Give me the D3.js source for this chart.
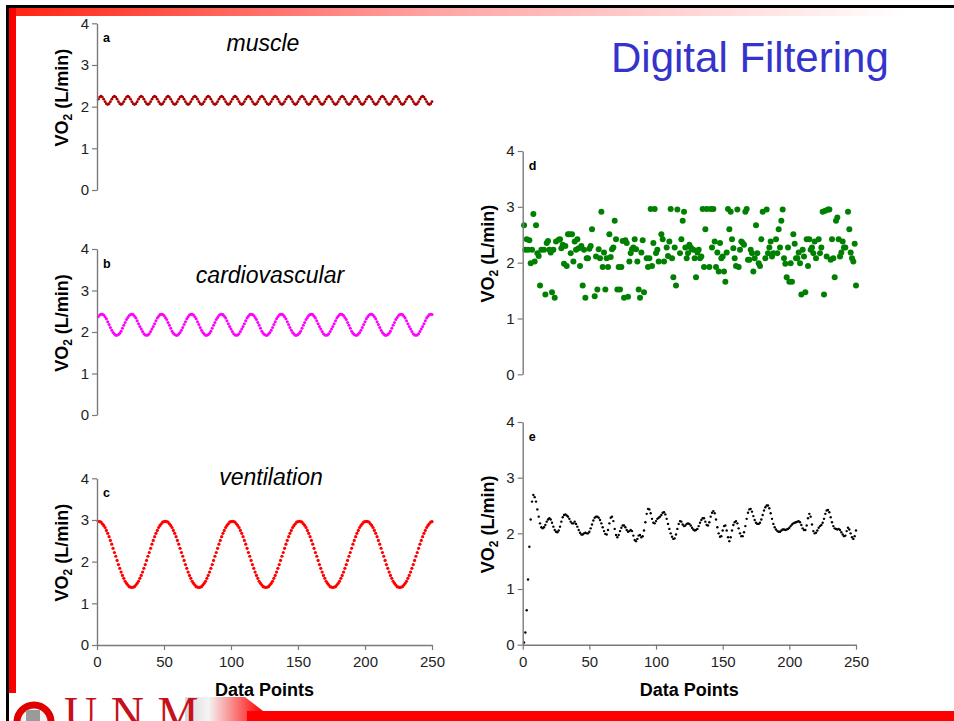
<!DOCTYPE html>
<html lang="en">
<head>
  <meta charset="UTF-8">
  <title>Digital Filtering</title>
  <script src="https://d3js.org/d3.v7.min.js"></script>
  <style>
    html, body { margin: 0; padding: 0; background: #fff; }
    svg { display: block; font-family: "Liberation Sans", Arial, sans-serif; }
  </style>
</head>
<body>
  <script>
    // ---- data ----
    const xTicks = [0, 50, 100, 150, 200, 250];
    const yTicks = [0, 1, 2, 3, 4];

    // panel a: muscle, x = 1..250
    const muscle = [
      2.18,2.23,2.25,2.23,2.18,2.12,2.07,2.05,2.07,2.12, 2.18,2.23,2.25,2.23,2.18,2.12,2.07,2.05,2.07,2.12,
      2.18,2.23,2.25,2.23,2.18,2.12,2.07,2.05,2.07,2.12, 2.18,2.23,2.25,2.23,2.18,2.12,2.07,2.05,2.07,2.12,
      2.18,2.23,2.25,2.23,2.18,2.12,2.07,2.05,2.07,2.12, 2.18,2.23,2.25,2.23,2.18,2.12,2.07,2.05,2.07,2.12,
      2.18,2.23,2.25,2.23,2.18,2.12,2.07,2.05,2.07,2.12, 2.18,2.23,2.25,2.23,2.18,2.12,2.07,2.05,2.07,2.12,
      2.18,2.23,2.25,2.23,2.18,2.12,2.07,2.05,2.07,2.12, 2.18,2.23,2.25,2.23,2.18,2.12,2.07,2.05,2.07,2.12,
      2.18,2.23,2.25,2.23,2.18,2.12,2.07,2.05,2.07,2.12, 2.18,2.23,2.25,2.23,2.18,2.12,2.07,2.05,2.07,2.12,
      2.18,2.23,2.25,2.23,2.18,2.12,2.07,2.05,2.07,2.12, 2.18,2.23,2.25,2.23,2.18,2.12,2.07,2.05,2.07,2.12,
      2.18,2.23,2.25,2.23,2.18,2.12,2.07,2.05,2.07,2.12, 2.18,2.23,2.25,2.23,2.18,2.12,2.07,2.05,2.07,2.12,
      2.18,2.23,2.25,2.23,2.18,2.12,2.07,2.05,2.07,2.12, 2.18,2.23,2.25,2.23,2.18,2.12,2.07,2.05,2.07,2.12,
      2.18,2.23,2.25,2.23,2.18,2.12,2.07,2.05,2.07,2.12, 2.18,2.23,2.25,2.23,2.18,2.12,2.07,2.05,2.07,2.12,
      2.18,2.23,2.25,2.23,2.18,2.12,2.07,2.05,2.07,2.12, 2.18,2.23,2.25,2.23,2.18,2.12,2.07,2.05,2.07,2.12,
      2.18,2.23,2.25,2.23,2.18,2.12,2.07,2.05,2.07,2.12, 2.18,2.23,2.25,2.23,2.18,2.12,2.07,2.05,2.07,2.12,
      2.18,2.23,2.25,2.23,2.18,2.12,2.07,2.05,2.07,2.12
    ];

    // panel b: cardiovascular, x = 1..250
    const cardio = [
      2.37,2.41,2.43,2.43,2.41,2.37,2.32,2.25,2.18,2.11,2.04,1.99,1.95,1.92,1.92,1.94,1.97,2.02,2.09,2.16,2.23,2.30,
      2.35,2.40,2.42,2.43,2.42,2.38,2.34,2.27,2.20,2.13,2.07,2.01,1.96,1.93,1.92,1.93,1.96,2.01,2.07,2.13,2.20,2.27,
      2.34,2.38,2.42,2.43,2.42,2.40,2.35,2.30,2.23,2.16,2.09,2.02,1.97,1.94,1.92,1.92,1.95,1.99,2.04,2.11,2.18,2.25,
      2.32,2.37,2.41,2.43,2.43,2.41,2.37,2.32,2.25,2.18,2.11,2.04,1.99,1.95,1.92,1.92,1.94,1.97,2.02,2.09,2.16,2.23,
      2.30,2.35,2.40,2.42,2.43,2.42,2.38,2.34,2.27,2.20,2.13,2.07,2.01,1.96,1.93,1.92,1.93,1.96,2.01,2.07,2.13,2.20,
      2.27,2.34,2.38,2.42,2.43,2.42,2.40,2.35,2.30,2.23,2.16,2.09,2.02,1.97,1.94,1.92,1.92,1.95,1.99,2.04,2.11,2.18,2.25,
      2.32,2.37,2.41,2.43,2.43,2.41,2.37,2.32,2.25,2.18,2.11,2.04,1.99,1.95,1.92,1.92,1.94,1.97,2.02,2.09,2.16,2.23,
      2.30,2.35,2.40,2.42,2.43,2.42,2.38,2.34,2.27,2.20,2.13,2.07,2.01,1.96,1.93,1.92,1.93,1.96,2.01,2.07,2.13,2.20,
      2.27,2.34,2.38,2.42,2.43,2.42,2.40,2.35,2.30,2.23,2.16,2.09,2.02,1.97,1.94,1.92,1.92,1.95,1.99,2.04,2.11,2.18,2.25,
      2.32,2.37,2.41,2.43,2.43,2.41,2.37,2.32,2.25,2.18,2.11,2.04,1.99,1.95,1.92,1.92,1.94,1.97,2.02,2.09,2.16,2.23,
      2.30,2.35,2.40,2.42,2.43,2.42,2.38,2.34,2.27,2.20,2.13,2.07,2.01,1.96,1.93,1.92,1.93,1.96,2.01,2.07,2.13,2.20,
      2.27,2.34,2.38,2.42,2.43,2.42
    ];

    // panel c: ventilation, x = 1..250
    const ventilation = [
      2.97,2.96,2.95,2.91,2.87,2.82,2.75,2.68,2.60,2.51,2.42,2.32,2.22,2.13,2.03,1.93,1.84,1.75,1.67,1.60,
      1.53,1.48,1.44,1.40,1.39,1.38,1.39,1.40,1.44,1.48,1.53,1.60,1.67,1.75,1.84,1.93,2.03,2.13,2.22,2.32,
      2.42,2.51,2.60,2.68,2.75,2.82,2.87,2.91,2.95,2.96,
      2.97,2.96,2.95,2.91,2.87,2.82,2.75,2.68,2.60,2.51,2.42,2.32,2.22,2.13,2.03,1.93,1.84,1.75,1.67,1.60,
      1.53,1.48,1.44,1.40,1.39,1.38,1.39,1.40,1.44,1.48,1.53,1.60,1.67,1.75,1.84,1.93,2.03,2.13,2.22,2.32,
      2.42,2.51,2.60,2.68,2.75,2.82,2.87,2.91,2.95,2.96,
      2.97,2.96,2.95,2.91,2.87,2.82,2.75,2.68,2.60,2.51,2.42,2.32,2.22,2.13,2.03,1.93,1.84,1.75,1.67,1.60,
      1.53,1.48,1.44,1.40,1.39,1.38,1.39,1.40,1.44,1.48,1.53,1.60,1.67,1.75,1.84,1.93,2.03,2.13,2.22,2.32,
      2.42,2.51,2.60,2.68,2.75,2.82,2.87,2.91,2.95,2.96,
      2.97,2.96,2.95,2.91,2.87,2.82,2.75,2.68,2.60,2.51,2.42,2.32,2.22,2.13,2.03,1.93,1.84,1.75,1.67,1.60,
      1.53,1.48,1.44,1.40,1.39,1.38,1.39,1.40,1.44,1.48,1.53,1.60,1.67,1.75,1.84,1.93,2.03,2.13,2.22,2.32,
      2.42,2.51,2.60,2.68,2.75,2.82,2.87,2.91,2.95,2.96,
      2.97,2.96,2.95,2.91,2.87,2.82,2.75,2.68,2.60,2.51,2.42,2.32,2.22,2.13,2.03,1.93,1.84,1.75,1.67,1.60,
      1.53,1.48,1.44,1.40,1.39,1.38,1.39,1.40,1.44,1.48,1.53,1.60,1.67,1.75,1.84,1.93,2.03,2.13,2.22,2.32,
      2.42,2.51,2.60,2.68,2.75,2.82,2.87,2.91,2.95,2.96
    ];

    // panel d: raw signal (x positions and values)
    const rawX = [
      1,2,3,4,5,6,7,8,9,10,  11,12,13,14,16,17,18,19,20,  21,22,23,24,25,27,28,29,30,
      31,32,33,34,35,36,37,38,39,40,  41,42,43,44,45,46,47,48,49,50,  51,52,54,55,56,57,58,59,60,
      61,62,63,64,65,66,67,68,69,70,  71,72,73,74,75,76,77,78,79,80,  81,82,83,84,85,86,87,88,89,90,
      91,93,94,95,96,97,98,99,100,  101,102,104,105,106,108,109,110,  111,112,113,114,115,116,118,119,120,
      121,122,123,124,125,126,127,128,129,130,  131,132,133,134,135,136,137,138,140,
      141,142,143,144,145,146,147,148,149,150,  151,152,153,154,155,156,157,158,159,160,
      161,162,163,164,165,166,167,168,169,170,  171,172,173,174,175,176,177,178,179,180,
      182,183,184,185,186,187,188,190,  191,192,193,194,195,196,197,198,199,200,
      201,202,203,204,205,206,207,208,209,210,  211,212,213,214,215,216,217,218,219,220,
      222,223,224,225,226,227,228,229,230,  231,232,233,234,235,236,237,238,239,240,
      241,242,244,245,246,247,248,249,250
    ];
    const rawY = [
      2.67,2.23,2.42,2.23,2.40,1.99,2.23,2.87,2.02,2.67,  2.17,2.12,1.59,2.23,2.23,1.43,2.35,2.39,2.23,  2.18,1.47,2.23,1.37,2.38,2.41,2.42,2.26,2.32,
      1.98,2.30,1.94,2.51,2.51,2.17,2.51,2.02,2.38,2.23,  2.42,2.26,1.94,2.30,1.59,2.23,1.37,2.08,2.08,2.25,  2.30,2.60,1.40,2.11,1.52,2.24,2.08,2.91,1.92,
      2.18,1.52,2.08,1.92,2.51,2.10,2.24,2.27,2.75,2.42,  1.52,1.92,1.52,1.92,2.39,1.37,2.40,2.35,1.39,2.02,  2.17,2.24,2.27,2.42,2.24,2.02,1.52,1.37,2.18,2.40,
      1.47,2.08,1.92,2.08,2.96,1.94,2.35,2.96,2.17,  2.23,2.02,2.51,2.42,2.02,2.27,2.12,2.38,  2.96,2.08,1.74,2.27,1.59,2.95,2.17,2.42,2.75,
      2.91,2.27,2.08,2.17,2.32,2.27,2.24,2.23,2.08,1.74,  2.18,2.23,2.08,2.11,2.96,1.92,2.60,2.96,1.92,
      2.96,2.27,2.96,2.38,1.92,2.18,1.84,2.35,2.08,2.11,  1.84,1.66,2.18,2.96,2.60,2.91,2.42,2.26,2.08,1.94,
      2.95,1.92,2.23,2.38,2.35,2.32,2.91,2.96,2.05,2.05,  2.23,2.17,1.84,2.08,2.67,2.17,1.99,1.94,2.42,2.91,
      2.08,2.95,2.17,2.27,2.38,2.11,2.17,2.42,  2.17,2.60,2.27,2.75,2.95,2.08,1.98,1.74,2.27,1.66,
      1.99,1.66,2.51,2.34,2.08,2.08,2.18,1.99,1.43,2.23,  2.11,1.47,2.42,1.94,2.42,2.23,2.27,2.17,2.38,2.08,
      2.42,2.17,2.27,2.91,1.43,2.93,2.11,2.95,2.95,  2.05,2.42,2.08,1.74,2.75,2.81,2.42,2.11,2.18,2.38,
      2.27,2.27,2.91,2.60,2.18,2.08,2.02,2.34,1.59
    ];

    // panel e: filtered signal, x = 1..250
    const filtered = [
      0.04,0.22,0.62,1.17,1.76,2.25,2.57,2.69,2.65,2.57, 2.43,2.30,2.18,2.11,2.09,2.11,2.15,2.21,2.25,2.27,
      2.25,2.19,2.12,2.06,2.03,2.02,2.05,2.12,2.21,2.29, 2.33,2.34,2.32,2.30,2.26,2.21,2.18,2.18,2.21,2.17,
      2.12,2.06,2.01,1.98,1.98,2.00,2.01,2.00,2.00,2.03, 2.09,2.16,2.23,2.28,2.30,2.30,2.28,2.24,2.18,2.11,
      2.04,1.99,1.98,2.06,2.18,2.28,2.30,2.22,2.08,1.97, 1.93,1.97,2.04,2.10,2.14,2.14,2.11,2.06,2.03,2.04,
      2.06,2.04,1.96,1.88,1.86,1.90,1.96,1.97,1.93,1.95, 2.05,2.20,2.35,2.44,2.43,2.36,2.26,2.19,2.18,2.22,
      2.26,2.28,2.30,2.33,2.37,2.38,2.34,2.26,2.17,2.08, 2.00,1.94,1.90,1.91,1.98,2.08,2.17,2.22,2.21,2.16,
      2.13,2.14,2.17,2.18,2.17,2.14,2.10,2.07,2.05,2.06, 2.08,2.13,2.19,2.24,2.27,2.27,2.21,2.15,2.14,2.20,
      2.30,2.37,2.40,2.36,2.25,2.11,2.00,1.94,1.95,2.05, 2.13,2.14,2.05,1.93,1.86,1.93,2.05,2.15,2.20,2.22,
      2.18,2.09,2.00,1.95,1.95,2.02,2.13,2.26,2.37,2.43, 2.44,2.39,2.31,2.24,2.19,2.17,2.17,2.19,2.25,2.33,
      2.41,2.47,2.50,2.50,2.45,2.36,2.26,2.17,2.11,2.07, 2.04,2.03,2.03,2.05,2.07,2.07,2.06,2.07,2.08,2.10,
      2.13,2.16,2.18,2.19,2.20,2.21,2.22,2.20,2.15,2.09, 2.06,2.06,2.14,2.27,2.35,2.30,2.16,2.04,2.00,2.01,
      2.05,2.10,2.13,2.15,2.19,2.26,2.35,2.41,2.42,2.38, 2.29,2.20,2.13,2.09,2.08,2.07,2.08,2.06,2.02,1.98,
      1.95,1.96,2.04,2.10,2.07,2.00,1.93,1.90,1.95,2.05
    ];

    const W = 954, H = 721;
    const svg = d3.select("body").append("svg")
        .attr("width", W)
        .attr("height", H);

    // ---- slide frame ----
    const defs = svg.append("defs");
    const topGrad = defs.append("linearGradient").attr("id", "topGrad")
        .attr("x1", "0%").attr("x2", "100%");
    topGrad.append("stop").attr("offset", "0%").attr("stop-color", "#ff2412");
    topGrad.append("stop").attr("offset", "45%").attr("stop-color", "#ffa4a4");
    topGrad.append("stop").attr("offset", "95%").attr("stop-color", "#ffffff");

    const logoGrad = defs.append("linearGradient").attr("id", "logoGrad")
        .attr("x1", "0%").attr("x2", "100%");
    logoGrad.append("stop").attr("offset", "0%").attr("stop-color", "#d8d8d8");
    logoGrad.append("stop").attr("offset", "30%").attr("stop-color", "#f4f4f4");
    logoGrad.append("stop").attr("offset", "100%").attr("stop-color", "#ff0000");

    svg.append("rect").attr("x", 9).attr("y", 8).attr("width", W - 9).attr("height", 8)
        .attr("fill", "url(#topGrad)");
    svg.append("rect").attr("x", 6).attr("y", 5).attr("width", W - 6).attr("height", 3)
        .attr("fill", "#000");
    svg.append("rect").attr("x", 6).attr("y", 5).attr("width", 3).attr("height", H - 5)
        .attr("fill", "#000");
    svg.append("rect").attr("x", 9).attr("y", 8).attr("width", 7).attr("height", 685)
        .attr("fill", "#ff0000");

    // bottom bar and UNM logo
    svg.append("path")
        .attr("d", "M185,697 L245,697 L263,711 L263,721 L185,721 Z")
        .attr("fill", "url(#logoGrad)");
    svg.append("rect").attr("x", 247).attr("y", 711).attr("width", W - 247).attr("height", 10)
        .attr("fill", "#ff0000");
    svg.append("circle").attr("cx", 34).attr("cy", 722).attr("r", 17)
        .attr("fill", "#f2f2f2").attr("stroke", "#e00000").attr("stroke-width", 7);
    svg.append("rect").attr("x", 26).attr("y", 710).attr("width", 14).attr("height", 11)
        .attr("fill", "#9a9a9a");
    svg.append("text")
        .attr("x", 64).attr("y", 729)
        .attr("font-family", "'Liberation Serif', 'DejaVu Serif', serif")
        .attr("font-size", 46)
        .attr("fill", "#c8101c")
        .attr("letter-spacing", 1)
        .text("U N M");

    // ---- title ----
    svg.append("text")
        .attr("x", 611).attr("y", 72)
        .attr("font-size", 42)
        .attr("fill", "#3434cc")
        .text("Digital Filtering");

    // ---- panels ----
    const panels = [
      { id: "a", xs: null, ys: muscle, color: "#a80000", r: 1.4,
        left: 97, right: 432, top: 23.3, bottom: 190, xAxis: false,
        title: "muscle", tx: 263, ty: 51 },
      { id: "b", xs: null, ys: cardio, color: "#ff00ff", r: 1.5,
        left: 97, right: 432, top: 249, bottom: 415, xAxis: false,
        title: "cardiovascular", tx: 270, ty: 283 },
      { id: "c", xs: null, ys: ventilation, color: "#ff0000", r: 1.6,
        left: 97, right: 432, top: 478.3, bottom: 645, xAxis: true,
        title: "ventilation", tx: 271, ty: 485 },
      { id: "d", xs: rawX, ys: rawY, color: "#008000", r: 3,
        left: 522.7, right: 856, top: 151, bottom: 374.3, xAxis: false },
      { id: "e", xs: null, ys: filtered, color: "#000000", r: 1.2,
        left: 522.7, right: 856, top: 422, bottom: 644.7, xAxis: true }
    ];

    panels.forEach(p => {
      const x = d3.scaleLinear().domain([0, 250]).range([p.left, p.right]);
      const y = d3.scaleLinear().domain([0, 4]).range([p.bottom, p.top]);
      const g = svg.append("g");

      const pts = p.ys.map((v, i) => ({ x: p.xs ? p.xs[i] : i + 1, v: v }));

      g.selectAll("circle")
          .data(pts)
          .enter()
          .append("circle")
          .attr("cx", d => x(d.x))
          .attr("cy", d => y(d.v))
          .attr("r", p.r)
          .attr("fill", p.color);

      const yAxis = g.append("g")
          .attr("transform", `translate(${p.left},0)`)
          .call(d3.axisLeft(y).tickValues(yTicks).tickFormat(d3.format("d"))
              .tickSize(5).tickSizeOuter(0).tickPadding(3));
      styleAxis(yAxis);

      if (p.xAxis) {
        const xAxis = g.append("g")
            .attr("transform", `translate(0,${p.bottom})`)
            .call(d3.axisBottom(x).tickValues(xTicks).tickFormat(d3.format("d"))
                .tickSize(5).tickSizeOuter(0).tickPadding(6.5));
        styleAxis(xAxis);

        g.append("text")
            .attr("x", (p.left + p.right) / 2)
            .attr("y", 696)
            .attr("text-anchor", "middle")
            .attr("font-size", 18)
            .attr("font-weight", "bold")
            .text("Data Points");
      }

      // y label with subscript
      const lab = g.append("text")
          .attr("transform", `translate(${p.left - 28.7},${(p.top + p.bottom) / 2 - 9}) rotate(-90)`)
          .attr("text-anchor", "middle")
          .attr("font-size", 18)
          .attr("font-weight", "bold");
      lab.append("tspan").text("VO");
      lab.append("tspan").attr("font-size", 12).attr("dy", 4).text("2");
      lab.append("tspan").attr("dy", -4).text(" (L/min)");

      g.append("text")
          .attr("x", p.left + 6)
          .attr("y", p.top + 19)
          .attr("font-size", 12.5)
          .attr("font-weight", "bold")
          .text(p.id);

      if (p.title) {
        g.append("text")
            .attr("x", p.tx)
            .attr("y", p.ty)
            .attr("text-anchor", "middle")
            .attr("font-size", 23)
            .attr("font-style", "italic")
            .text(p.title);
      }
    });

    function styleAxis(sel) {
      sel.attr("font-family", null).attr("font-size", null);
      sel.select(".domain").attr("stroke", "#7a7a7a").attr("stroke-width", 1.4);
      sel.selectAll(".tick line").attr("stroke", "#7a7a7a").attr("stroke-width", 1.2);
      sel.selectAll(".tick text").attr("fill", "#1e1e1e").style("font-size", "15px");
    }
  </script>
</body>
</html>
